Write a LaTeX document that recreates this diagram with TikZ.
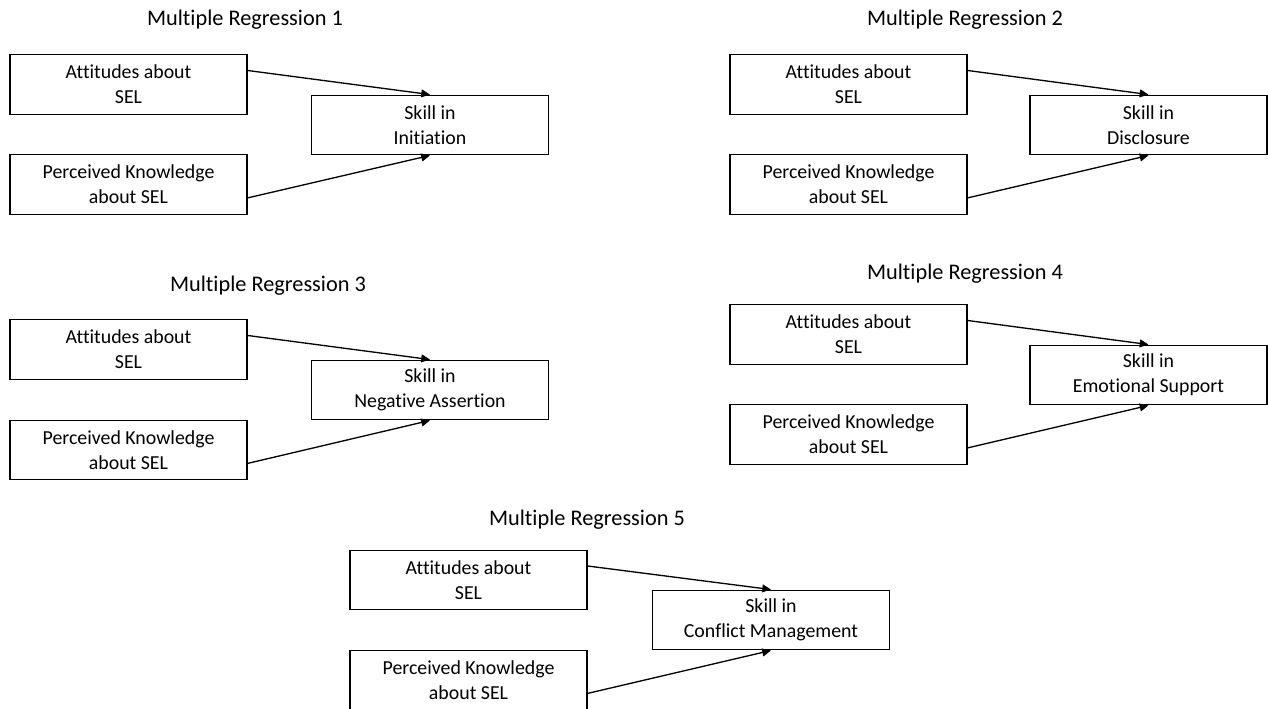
\documentclass[tikz,border=0pt]{standalone}
\usepackage{fontspec}
\setmainfont{Carlito}[Ligatures=NoCommon]
\usetikzlibrary{arrows.meta,calc}
\begin{document}
\begin{tikzpicture}[x=0.02cm,y=-0.02cm,
 box/.style={draw=black,line width=0.8pt,minimum width=4.74cm,minimum height=1.19cm,inner sep=0pt,align=center,font=\fontsize{11.3}{14.2}\selectfont},
 ttl/.style={font=\fontsize{12.7}{15}\selectfont},
 arr/.style={line width=0.75pt,-{Triangle[length=5pt,width=4.5pt]}}]
\clip (0,0) rectangle (1268,709);
% Group 1
\node[ttl] (t1) at (245,20) {Multiple Regression 1};
\node[box] (a1) at (128.5,84.5) {Attitudes about\\SEL};
\node[box] (p1) at (128.5,184.5) {Perceived Knowledge\\about SEL};
\node[box] (s1) at (430,125) {Skill in\\Initiation};
\draw[arr] ($(a1.north east)!0.27!(a1.south east)$) -- (s1.north);
\draw[arr] ($(p1.north east)!0.72!(p1.south east)$) -- (s1.south);
% Group 2
\node[ttl] (t2) at (965,20) {Multiple Regression 2};
\node[box] (a2) at (848.5,84.5) {Attitudes about\\SEL};
\node[box] (p2) at (848.5,184.5) {Perceived Knowledge\\about SEL};
\node[box] (s2) at (1148.5,125) {Skill in\\Disclosure};
\draw[arr] ($(a2.north east)!0.27!(a2.south east)$) -- (s2.north);
\draw[arr] ($(p2.north east)!0.72!(p2.south east)$) -- (s2.south);
% Group 3
\node[ttl] (t3) at (268,286) {Multiple Regression 3};
\node[box] (a3) at (128.5,349.5) {Attitudes about\\SEL};
\node[box] (p3) at (128.5,450) {Perceived Knowledge\\about SEL};
\node[box] (s3) at (430,390) {Skill in\\Negative Assertion};
\draw[arr] ($(a3.north east)!0.27!(a3.south east)$) -- (s3.north);
\draw[arr] ($(p3.north east)!0.72!(p3.south east)$) -- (s3.south);
% Group 4
\node[ttl] (t4) at (965,274) {Multiple Regression 4};
\node[box] (a4) at (848.5,334.5) {Attitudes about\\SEL};
\node[box] (p4) at (848.5,434.5) {Perceived Knowledge\\about SEL};
\node[box] (s4) at (1148.5,375) {Skill in\\Emotional Support};
\draw[arr] ($(a4.north east)!0.27!(a4.south east)$) -- (s4.north);
\draw[arr] ($(p4.north east)!0.72!(p4.south east)$) -- (s4.south);
% Group 5
\node[ttl] (t5) at (587,520) {Multiple Regression 5};
\node[box] (a5) at (468.5,580) {Attitudes about\\SEL};
\node[box] (p5) at (468.5,680) {Perceived Knowledge\\about SEL};
\node[box] (s5) at (771,620) {Skill in\\Conflict Management};
\draw[arr] ($(a5.north east)!0.27!(a5.south east)$) -- (s5.north);
\draw[arr] ($(p5.north east)!0.72!(p5.south east)$) -- (s5.south);
\end{tikzpicture}
\end{document}
